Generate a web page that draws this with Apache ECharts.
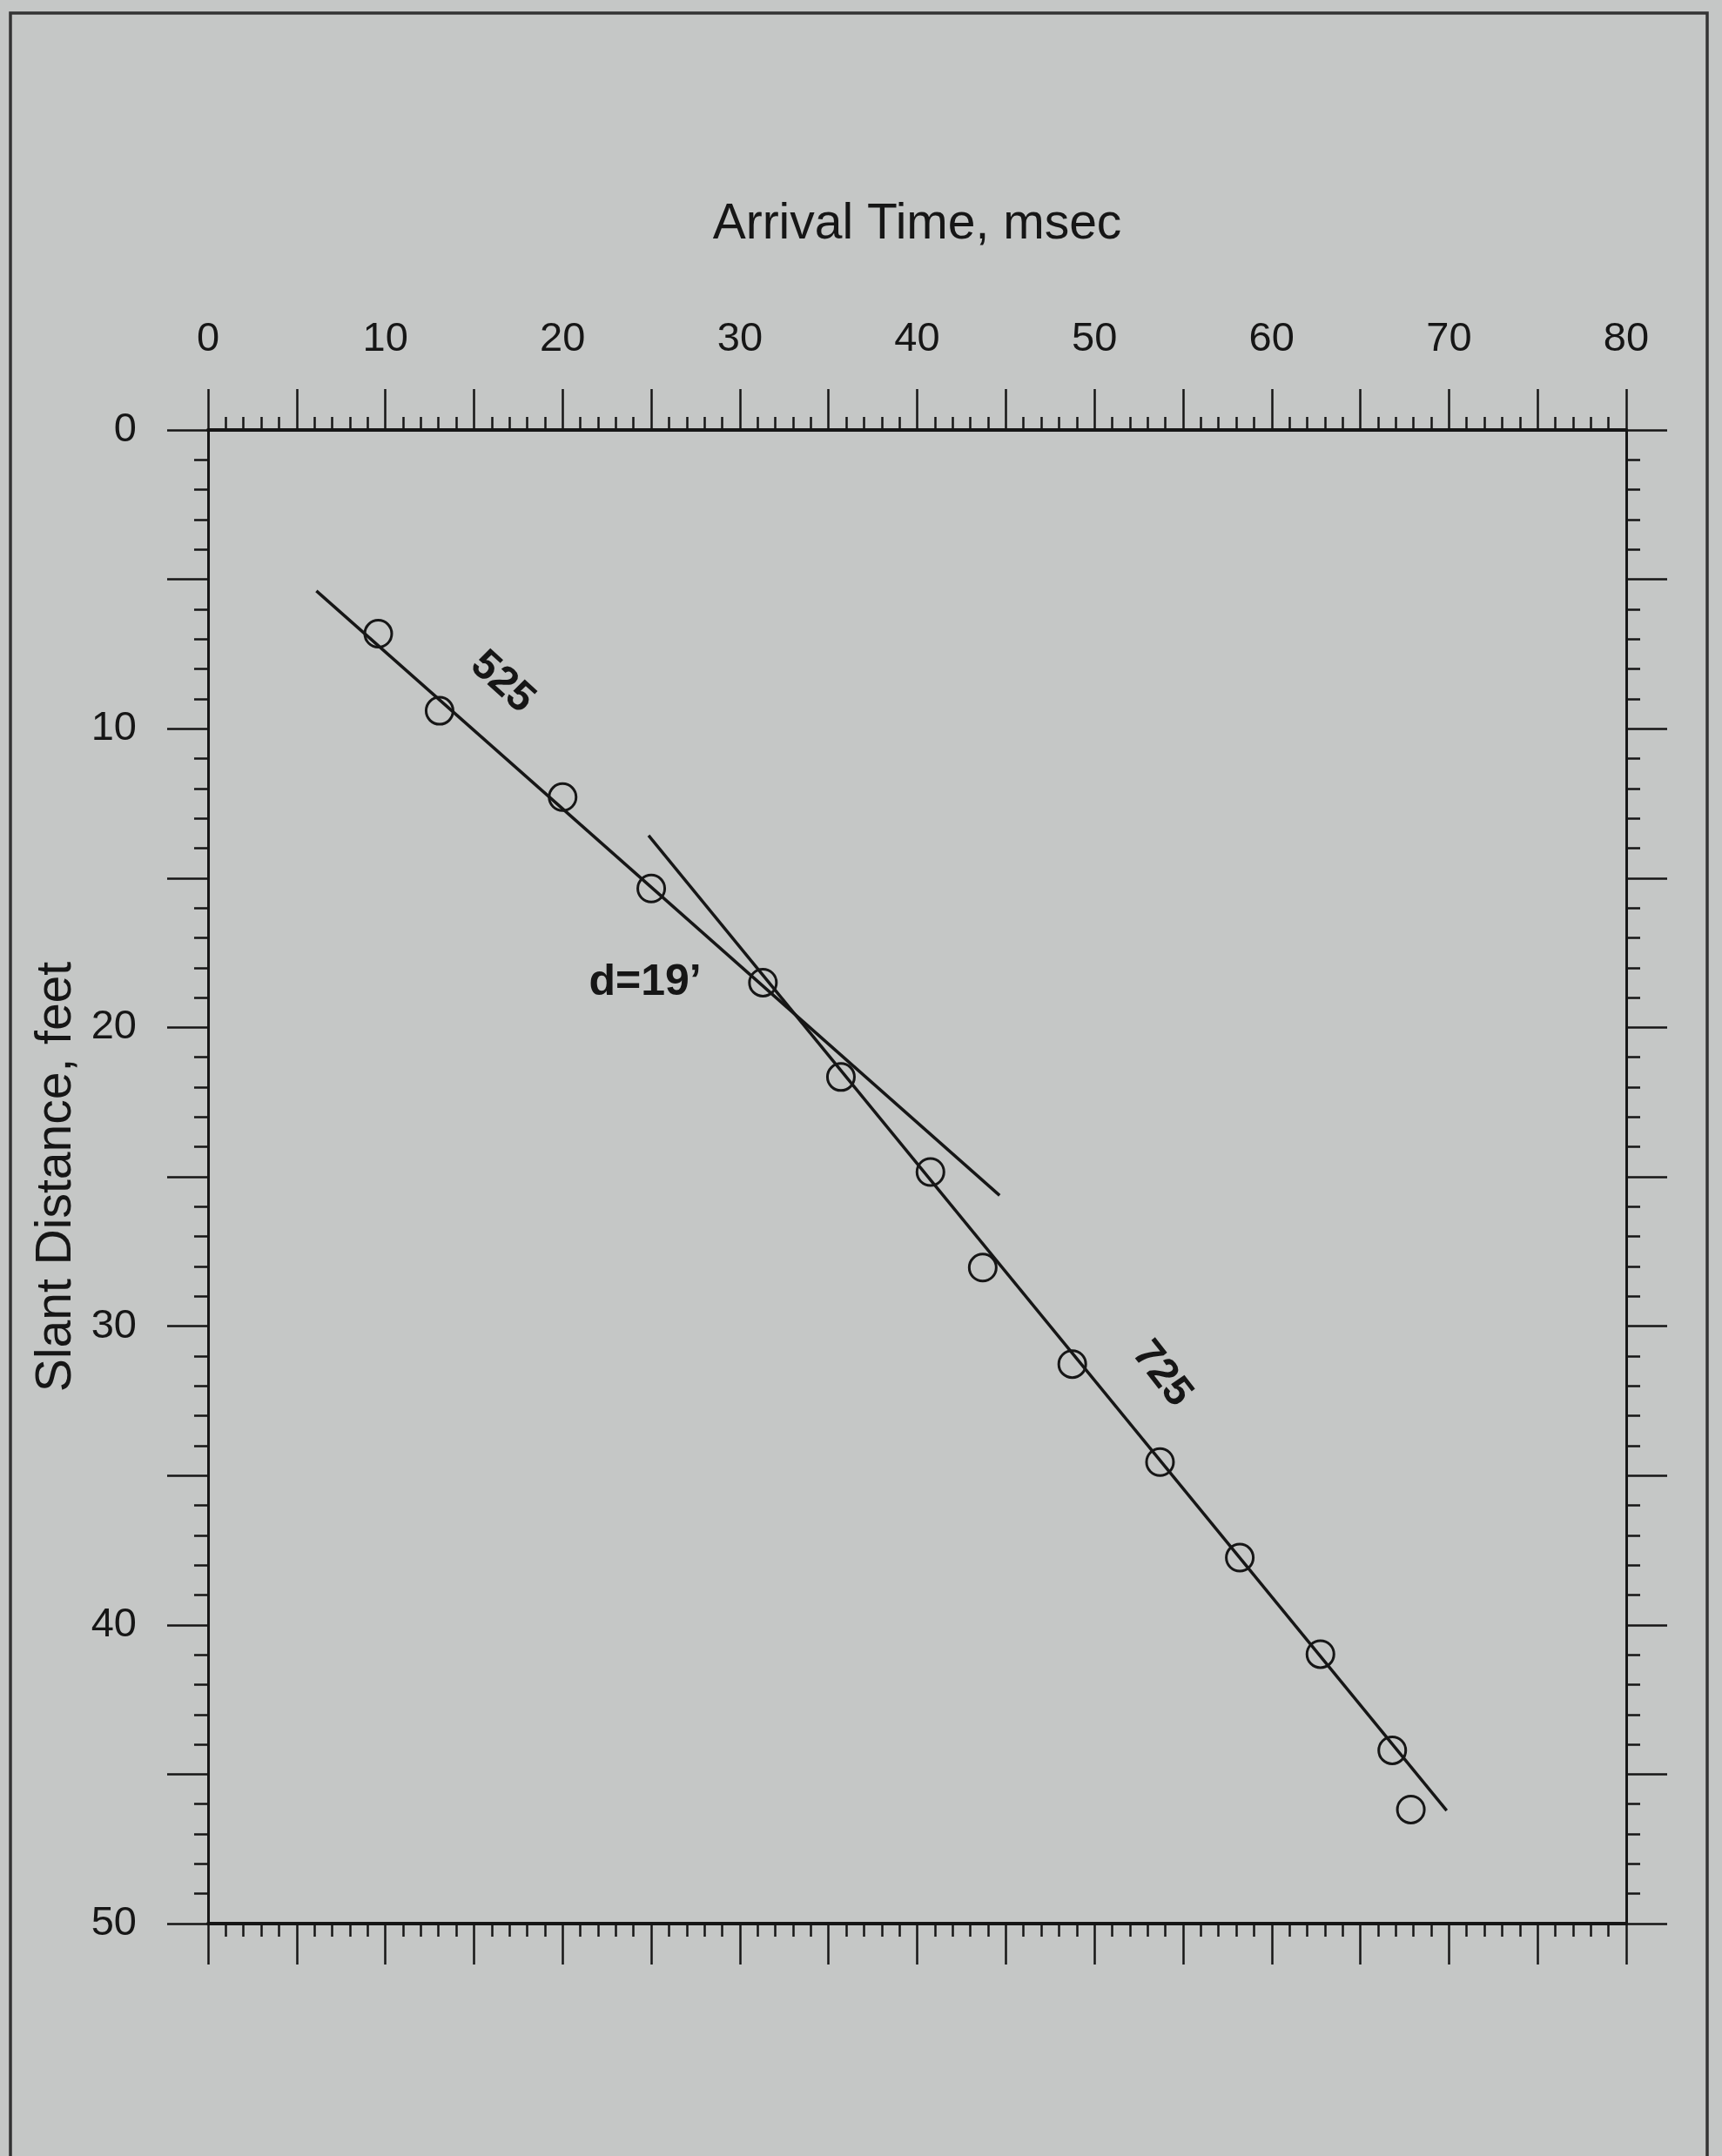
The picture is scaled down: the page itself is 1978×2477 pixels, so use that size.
<!DOCTYPE html>
<html>
<head>
<meta charset="utf-8">
<title>Arrival Time vs Slant Distance</title>
<script src="https://cdn.jsdelivr.net/npm/echarts@6/dist/echarts.min.js"></script>
<style>
  html, body { margin: 0; padding: 0; background: #c5c7c6; }
  #chart { width: 1978px; height: 2477px; }
</style>
</head>
<body>
<div id="chart"></div>
<script>
// Measured first arrivals: time (msec) and slant distance (feet)
const arrivalTimes = [9.6, 13.06, 20.0, 25.0, 31.3, 35.7, 40.75, 43.7, 48.75, 53.7, 58.2, 62.75, 66.8, 67.85];
const slantDistances = [6.82, 9.40, 12.29, 15.35, 18.5, 21.66, 24.84, 28.04, 31.27, 34.55, 37.75, 40.98, 44.2, 46.18];

// Fitted layer velocities (ft/s), intercepts (ft at t = 0) and time spans of each fit line
const velocities = [525, 725];
const intercepts = [2.18, -4.44];
const fitStart = [6.11, 24.85];
const fitEnd = [44.65, 69.87];

// Computed layer depth (ft)
const layerDepth = 19;

// Axis tick labels
const timeTicks = [0, 10, 20, 30, 40, 50, 60, 70, 80];
const distTicks = [0, 10, 20, 30, 40, 50];

const INK = '#161616';
const FONT = '"Liberation Sans", Arial, Helvetica, sans-serif';

// Build the two velocity lines: distance = intercept + (v / 1000) * time
const fitLines = velocities.map((v, i) => {
  const slope = v / 1000;
  return [
    [fitStart[i], intercepts[i] + slope * fitStart[i]],
    [fitEnd[i], intercepts[i] + slope * fitEnd[i]]
  ];
});

const points = arrivalTimes.map((t, i) => [t, slantDistances[i]]);

// Annotation anchors in data coordinates (time, distance), with text rotation in degrees
const notes = [
  { value: [16.6, 8.45], text: String(velocities[0]), rotate: -42, size: 48 },
  { value: [53.8, 31.6], text: String(velocities[1]), rotate: -52, size: 48 },
  { value: [24.66, 18.5], text: 'd=' + layerDepth + '\u2019', rotate: 0, size: 50 }
];

function tickFormatter(list) {
  return function (v) { return list.indexOf(v) >= 0 ? String(v) : ''; };
}

function makeX(position, showLabels) {
  return {
    type: 'value',
    position: position,
    min: 0, max: 80, interval: 5,
    axisLine: { show: true, onZero: false, lineStyle: { color: INK, width: 4 } },
    axisTick: { show: true, inside: false, length: 47, lineStyle: { color: INK, width: 2.5 } },
    minorTick: { show: true, splitNumber: 5, length: 15, lineStyle: { color: INK, width: 2.5 } },
    splitLine: { show: false },
    minorSplitLine: { show: false },
    axisLabel: {
      show: showLabels,
      formatter: tickFormatter(timeTicks),
      fontSize: 47, fontFamily: FONT, color: INK, margin: 80
    },
    name: showLabels ? 'Arrival Time, msec' : '',
    nameLocation: 'middle',
    nameGap: 207,
    nameTextStyle: { fontSize: 57, fontFamily: FONT, color: INK }
  };
}

function makeY(position, showLabels) {
  return {
    type: 'value',
    position: position,
    inverse: true,
    min: 0, max: 50, interval: 5,
    axisLine: { show: true, onZero: false, lineStyle: { color: INK, width: 3 } },
    axisTick: { show: true, inside: false, length: 47, lineStyle: { color: INK, width: 2.5 } },
    minorTick: { show: true, splitNumber: 5, length: 16, lineStyle: { color: INK, width: 2.5 } },
    splitLine: { show: false },
    minorSplitLine: { show: false },
    axisLabel: {
      show: showLabels,
      formatter: tickFormatter(distTicks),
      fontSize: 47, fontFamily: FONT, color: INK, margin: 82
    },
    name: showLabels ? 'Slant Distance, feet' : '',
    nameLocation: 'middle',
    nameGap: 133,
    nameTextStyle: { fontSize: 57, fontFamily: FONT, color: INK }
  };
}

const chart = echarts.init(document.getElementById('chart'), null, { renderer: 'canvas' });

const series = fitLines.map((seg) => ({
  type: 'line',
  xAxisIndex: 0, yAxisIndex: 0,
  data: seg,
  showSymbol: false,
  symbol: 'none',
  lineStyle: { color: INK, width: 3.5, opacity: 1 },
  z: 3,
  silent: true
}));

series.push({
  type: 'scatter',
  xAxisIndex: 0, yAxisIndex: 0,
  data: points,
  symbol: 'circle',
  symbolSize: 31,
  itemStyle: { color: 'rgba(0,0,0,0)', borderColor: INK, borderWidth: 3, opacity: 1 },
  z: 4,
  silent: true
});

series.push({
  type: 'scatter',
  xAxisIndex: 0, yAxisIndex: 0,
  symbolSize: 0,
  itemStyle: { opacity: 1, color: INK },
  data: notes.map((n) => ({
    value: n.value,
    label: {
      show: true,
      position: 'inside',
      formatter: n.text,
      rotate: n.rotate,
      fontSize: n.size,
      fontWeight: 'bold',
      fontFamily: FONT,
      color: INK,
      opacity: 1
    }
  })),
  z: 5,
  silent: true
});

chart.setOption({
  animation: false,
  backgroundColor: '#c5c7c6',
  grid: { left: 239, top: 494, width: 1629, height: 1716, containLabel: false },
  xAxis: [makeX('top', true), makeX('bottom', false)],
  yAxis: [makeY('left', true), makeY('right', false)],
  graphic: [{
    type: 'rect',
    shape: { x: 12, y: 15, width: 1949, height: 2600 },
    style: { fill: 'none', stroke: '#333333', lineWidth: 3.5 },
    silent: true,
    z: 0
  }],
  series: series
});
</script>
</body>
</html>
